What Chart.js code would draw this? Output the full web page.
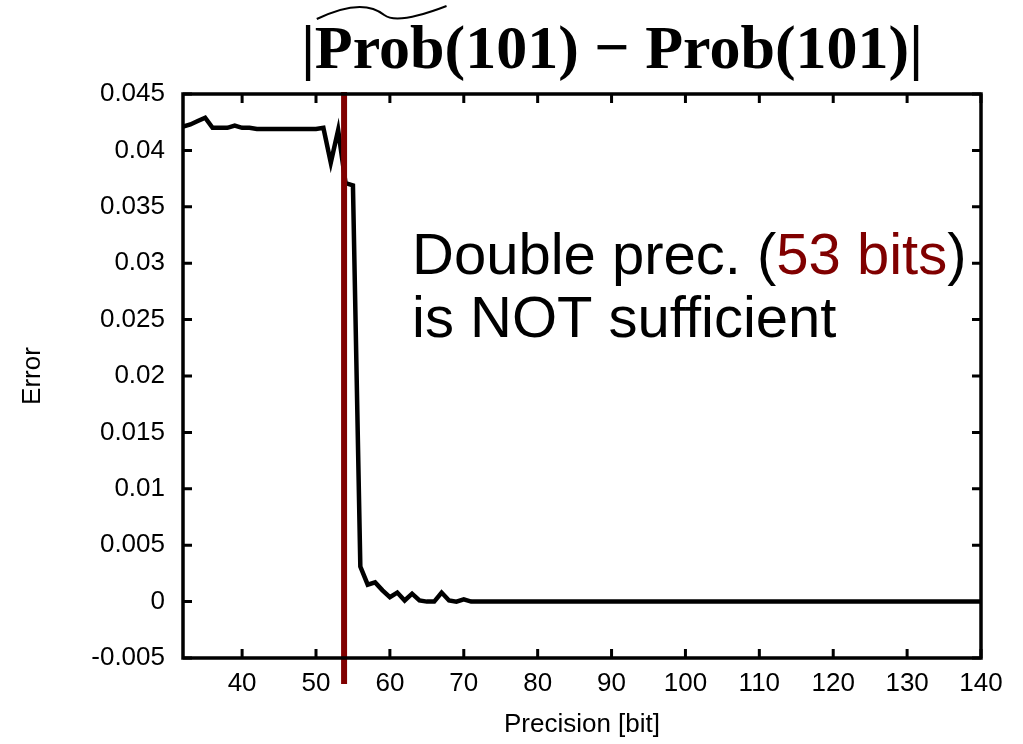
<!DOCTYPE html>
<html>
<head>
<meta charset="utf-8">
<script src="https://cdn.jsdelivr.net/npm/chart.js@4"></script>
<style>
  html, body { margin: 0; padding: 0; background: #ffffff; }
  #wrap { width: 1023px; height: 744px; position: relative; }
</style>
</head>
<body>
<div id="wrap"><canvas id="errChart"></canvas></div>
<script>
const bits = [32, 33, 34, 35, 36, 37, 38, 39, 40, 41, 42, 43, 44, 45, 46, 47, 48, 49, 50,
    51, 52, 53, 54, 55, 56, 57, 58, 59, 60, 61, 62, 63, 64, 65, 66, 67, 68, 69, 70,
    71, 72, 73, 74, 75, 76, 77, 78, 79, 80, 81, 82, 83, 84, 85, 86, 87, 88, 89, 90,
    91, 92, 93, 94, 95, 96, 97, 98, 99, 100, 101, 102, 103, 104, 105, 106, 107, 108, 109, 110,
    111, 112, 113, 114, 115, 116, 117, 118, 119, 120, 121, 122, 123, 124, 125, 126, 127, 128, 129, 130,
    131, 132, 133, 134, 135, 136, 137, 138, 139, 140];
const errors = [0.0421, 0.0423, 0.0426, 0.0429, 0.0420, 0.0420, 0.0420, 0.0422, 0.0420, 0.0420,
    0.0419, 0.0419, 0.0419, 0.0419, 0.0419, 0.0419, 0.0419, 0.0419, 0.0419, 0.0420,
    0.0389, 0.0418, 0.0371, 0.0369, 0.0031, 0.0015, 0.0017, 0.0010, 0.0004, 0.0008,
    0.0001, 0.0007, 0.0001, 0.0000, 0.0000, 0.0008, 0.0001, 0.0000, 0.0002, 0.0000,
    0, 0, 0, 0, 0, 0, 0, 0, 0, 0, 0, 0, 0, 0, 0, 0, 0, 0, 0, 0,
    0, 0, 0, 0, 0, 0, 0, 0, 0, 0, 0, 0, 0, 0, 0, 0, 0, 0, 0, 0,
    0, 0, 0, 0, 0, 0, 0, 0, 0, 0, 0, 0, 0, 0, 0, 0, 0, 0, 0, 0,
    0, 0, 0, 0, 0, 0, 0, 0, 0];
const xTicks = [40, 50, 60, 70, 80, 90, 100, 110, 120, 130, 140];
const yTicks = [-0.005, 0, 0.005, 0.01, 0.015, 0.02, 0.025, 0.03, 0.035, 0.04, 0.045];
const doubleBits = 53.8;

const darkRed = '#800000';
const tickFont = { family: "'Liberation Sans', Arial, sans-serif", size: 26 };

// frame + inward ticks on all four sides (gnuplot look), red marker, note text
const decorations = {
    id: 'decorations',
    afterDatasetsDraw(chart) {
        const { ctx, chartArea: a, scales: { x, y } } = chart;
        ctx.save();

        // red line at double precision
        const rx = x.getPixelForValue(doubleBits);
        ctx.strokeStyle = darkRed;
        ctx.lineWidth = 6;
        ctx.beginPath();
        ctx.moveTo(rx, a.top - 2);
        ctx.lineTo(rx, a.bottom + 26);
        ctx.stroke();

        ctx.strokeStyle = '#000';
        ctx.lineWidth = 3.5;
        ctx.strokeRect(a.left, a.top, a.right - a.left, a.bottom - a.top);
        ctx.lineWidth = 3;
        ctx.beginPath();
        xTicks.forEach(v => {
            const px = x.getPixelForValue(v);
            ctx.moveTo(px, a.bottom); ctx.lineTo(px, a.bottom - 9);
            ctx.moveTo(px, a.top); ctx.lineTo(px, a.top + 9);
        });
        yTicks.forEach(v => {
            const py = y.getPixelForValue(v);
            ctx.moveTo(a.left, py); ctx.lineTo(a.left + 9, py);
            ctx.moveTo(a.right, py); ctx.lineTo(a.right - 9, py);
        });
        ctx.stroke();

        // note
        ctx.font = "58px 'Liberation Sans', Arial, sans-serif";
        ctx.textBaseline = 'alphabetic';
        ctx.textAlign = 'left';
        let tx = x.getPixelForValue(63);
        const ty1 = y.getPixelForValue(0.029);
        const ty2 = y.getPixelForValue(0.0235);
        const parts = [['Double prec. (', '#000'], ['53 bits', darkRed], [')', '#000']];
        parts.forEach(([t, c]) => {
            ctx.fillStyle = c;
            ctx.fillText(t, tx, ty1);
            tx += ctx.measureText(t).width;
        });
        ctx.fillStyle = '#000';
        ctx.fillText('is NOT sufficient', x.getPixelForValue(63), ty2);

        // title: |Prob~(101) - Prob(101)|
        ctx.font = "bold 62px 'Liberation Serif', 'DejaVu Serif', serif";
        const bar = '|', first = 'Prob(101)', rest = ' \u2212 Prob(101)|';
        const w = ctx.measureText(bar + first + rest).width;
        let sx = 612 - w / 2;
        const base = 68;
        ctx.fillText(bar + first + rest, sx, base);
        const px0 = sx + ctx.measureText(bar).width + 2;
        const px1 = px0 + ctx.measureText('Prob').width;
        const tw = px1 - px0;
        ctx.lineWidth = 2;
        ctx.beginPath();
        ctx.moveTo(px0, 19);
        ctx.quadraticCurveTo(px0 + tw * 0.35, -3, px0 + tw * 0.52, 15);
        ctx.quadraticCurveTo(px0 + tw * 0.62, 25, px1, 6);
        ctx.stroke();

        ctx.restore();
    }
};

const ctx = document.getElementById('errChart').getContext('2d');
new Chart(ctx, {
    type: 'line',
    data: {
        datasets: [{
            label: 'Error',
            data: bits.map((b, i) => ({ x: b, y: errors[i] })),
            borderColor: '#000000',
            backgroundColor: 'transparent',
            borderWidth: 4.5,
            tension: 0,
            pointRadius: 0,
            pointHoverRadius: 0
        }]
    },
    options: {
        responsive: true,
        maintainAspectRatio: false,
        animation: false,
        layout: { padding: { top: 94, right: 42, left: 0, bottom: 0 } },
        plugins: {
            legend: { display: false },
            tooltip: { enabled: false },
            title: { display: false }
        },
        scales: {
            x: {
                type: 'linear',
                min: 32,
                max: 140,
                afterFit: s => { s.height = 86; },
                afterBuildTicks: s => { s.ticks = xTicks.map(v => ({ value: v })); },
                grid: { display: false, drawTicks: false },
                border: { display: false },
                ticks: { color: '#000', font: tickFont, padding: 10, maxRotation: 0 },
                title: { display: true, text: 'Precision [bit]', color: '#000', font: tickFont, padding: { top: 0, bottom: 4 } }
            },
            y: {
                min: -0.005,
                max: 0.045,
                afterFit: s => { s.width = 183; },
                afterBuildTicks: s => { s.ticks = yTicks.map(v => ({ value: v })); },
                grid: { display: false, drawTicks: false },
                border: { display: false },
                ticks: {
                    color: '#000',
                    font: tickFont,
                    padding: 18,
                    callback: v => String(Math.round(v * 1000) / 1000)
                },
                title: { display: true, text: 'Error', color: '#000', font: tickFont, padding: { top: 17, bottom: 0 } }
            }
        }
    },
    plugins: [decorations]
});
</script>
</body>
</html>
